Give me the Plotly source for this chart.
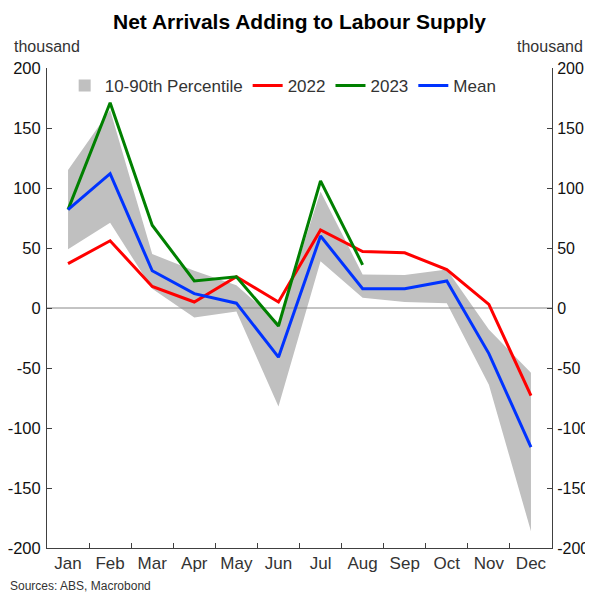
import plotly.graph_objects as go

months = ["Jan", "Feb", "Mar", "Apr", "May", "Jun", "Jul", "Aug", "Sep", "Oct", "Nov", "Dec"]
p10 = [49, 71, 16, -8, -3, -82, 39, 8.6, 5, 4, -64, -186]
p90 = [115, 165, 45, 31, 19, -12, 97, 28, 27.5, 32, -18, -54]
mean = [82, 112, 31, 12, 4, -41, 60, 16, 16, 22.5, -38, -116]
y2022 = [37, 56, 18, 5, 26, 5, 65, 47, 46, 32, 3, -73]
y2023 = [82, 171, 69, 22.5, 26, -15, 106, 36]
yticks = [-200, -150, -100, -50, 0, 50, 100, 150, 200]
ytick_text = [str(v) for v in yticks]

xpos = list(range(len(months)))
xr = [-0.5, len(months) - 0.5]
yr = [-200, 200]

TXT = "#333333"
AX = "#404040"
FONT = "Liberation Sans, Arial, sans-serif"

fig = go.Figure()
# band
fig.add_trace(go.Scatter(x=xpos, y=p10, mode="lines", line=dict(width=0, color="#c0c0c0"),
                         showlegend=False, hoverinfo="skip"))
fig.add_trace(go.Scatter(x=xpos, y=p90, mode="lines", line=dict(width=0, color="#c0c0c0"),
                         fill="tonexty", fillcolor="#c0c0c0", showlegend=False, hoverinfo="skip"))
# zero line above band
fig.add_trace(go.Scatter(x=xr, y=[0, 0], mode="lines", line=dict(width=1, color="#888888"),
                         showlegend=False, hoverinfo="skip"))
# legend proxy for band
fig.add_trace(go.Scatter(x=[None], y=[None], mode="markers", name="10-90th Percentile",
                         marker=dict(symbol="square", size=12, color="#c0c0c0")))
fig.add_trace(go.Scatter(x=xpos, y=y2022, mode="lines", name="2022",
                         line=dict(color="#ff0000", width=3)))
fig.add_trace(go.Scatter(x=xpos[:len(y2023)], y=y2023, mode="lines", name="2023",
                         line=dict(color="#008000", width=3)))
fig.add_trace(go.Scatter(x=xpos, y=mean, mode="lines", name="Mean",
                         line=dict(color="#0033ff", width=3)))
# dummy for right axis
fig.add_trace(go.Scatter(x=[None], y=[None], yaxis="y2", showlegend=False, hoverinfo="skip"))

fig.update_layout(
    width=585, height=584,
    margin=dict(l=39, r=41, t=60, b=44, autoexpand=False),
    paper_bgcolor="white", plot_bgcolor="white",
    font=dict(family=FONT, size=17, color=TXT),
    title=dict(text="<b>Net Arrivals Adding to Labour Supply</b>", x=0.5, xanchor="center",
               xref="paper", y=1 - 14 / 584, yanchor="middle", yref="container",
               font=dict(size=21, color="#000000", family=FONT)),
    showlegend=True,
    legend=dict(orientation="h", x=0.035, xanchor="left", y=1.0, yanchor="top",
                font=dict(size=17, color=TXT), bgcolor="rgba(0,0,0,0)",
                itemwidth=30, tracegroupgap=0, traceorder="normal"),
    xaxis=dict(range=xr, tickmode="array", tickvals=xpos, ticktext=months, ticks="",
               showgrid=False, zeroline=False, showline=True, linecolor=AX, linewidth=1,
               automargin=False, tickfont=dict(size=17, color=TXT),
               minor=dict(tickmode="array", tickvals=[i + 0.5 for i in xpos[:-1]],
                          ticks="inside", ticklen=5, tickcolor=AX, tickwidth=1, showgrid=False)),
    yaxis=dict(range=yr, tickmode="array", tickvals=yticks, ticktext=ytick_text,
               ticks="inside", ticklen=5, automargin=False,
               tickcolor=AX, showgrid=False, zeroline=False, showline=True, linecolor=AX,
               linewidth=1, tickfont=dict(size=16.5, color="#111111"), ticklabelstandoff=2),
    yaxis2=dict(range=yr, overlaying="y", side="right", tickmode="array", tickvals=yticks,
                ticktext=ytick_text, automargin=False,
                ticks="inside", ticklen=5, tickcolor=AX, showgrid=False, zeroline=False,
                showline=True, linecolor=AX, linewidth=1,
                tickfont=dict(size=16, color="#111111"), ticklabelstandoff=1),
    annotations=[
        dict(text="thousand", xref="paper", yref="paper", x=-0.07, y=1.045, xanchor="left",
             yanchor="middle", showarrow=False, font=dict(size=16, color=TXT)),
        dict(text="thousand", xref="paper", yref="paper", x=1.065, y=1.045, xanchor="right",
             yanchor="middle", showarrow=False, font=dict(size=16, color=TXT)),
        dict(text="Sources: ABS, Macrobond", xref="paper", yref="paper", x=-0.077, y=-0.08,
             xanchor="left", yanchor="middle", showarrow=False, font=dict(size=12, color=TXT)),
    ],
)

fig.write_html("out.html")
